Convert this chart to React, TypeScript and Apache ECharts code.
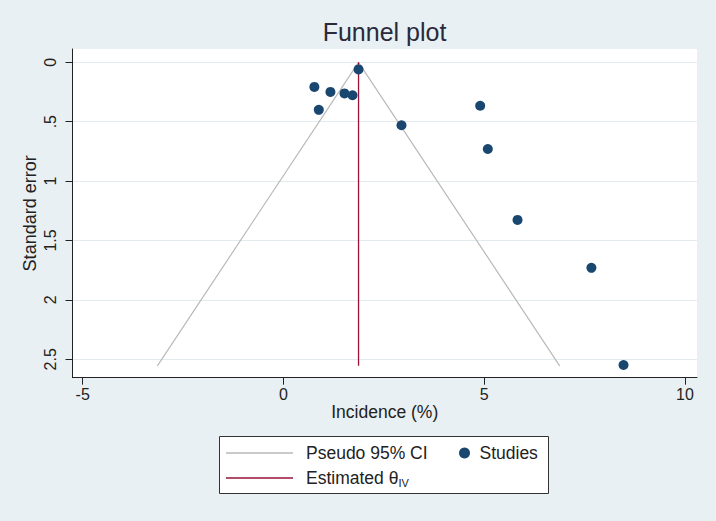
import React, { useEffect, useRef } from "react";
import * as echarts from "echarts";

// Studies: [incidence (%), standard error]
const studyX = [1.87, 0.77, 1.17, 1.52, 1.72, 0.88, 2.94, 4.9, 5.09, 5.83, 7.67, 8.47];
const studySE = [0.06, 0.207, 0.249, 0.262, 0.277, 0.4, 0.53, 0.366, 0.73, 1.327, 1.73, 2.548];

// Pseudo 95% CI funnel vertices
const funnelX = [-3.14, 1.87, 6.88];
const funnelSE = [2.555, 0, 2.555];

// Estimated theta_IV line
const thetaX = [1.87, 1.87];
const thetaSE = [0, 2.555];

const xTickValues = [-5, 0, 5, 10];
const xTickLabels = ["-5", "0", "5", "10"];
const yTickValues = [0, 0.5, 1, 1.5, 2, 2.5];
const yTickLabels = ["0", ".5", "1", "1.5", "2", "2.5"];

const FONT = "'Liberation Sans', Arial, sans-serif";
const TXT = "#222";

export default function App() {
  const ref = useRef<HTMLDivElement>(null);
  useEffect(() => {
    document.body.style.margin = "0";
    const chart = echarts.init(ref.current!, null, { renderer: "svg" });
    const zip = (a: number[], b: number[]) => a.map((v, i) => [v, b[i]]);
    const xLab = (v: number) => {
      const i = xTickValues.indexOf(v);
      return i >= 0 ? xTickLabels[i] : "";
    };
    const yLab = (v: number) => {
      const i = yTickValues.findIndex((t) => Math.abs(t - v) < 1e-9);
      return i >= 0 ? yTickLabels[i] : "";
    };
    chart.setOption({
      animation: false,
      backgroundColor: "#e9f0f3",
      textStyle: { fontFamily: FONT },
      title: {
        text: "Funnel plot",
        left: 384.5,
        textAlign: "center",
        top: 19,
        padding: 0,
        textStyle: { fontFamily: FONT, fontSize: 25, fontWeight: "normal", color: "#2a2a3a" },
      },
      grid: {
        left: 72.5,
        top: 49,
        right: 19,
        bottom: 143.3,
        show: true,
        backgroundColor: "#ffffff",
        borderWidth: 0,
      },
      xAxis: {
        type: "value",
        min: -5.254,
        max: 10.3,
        name: "Incidence (%)",
        nameLocation: "middle",
        nameGap: 25,
        nameMoveOverlap: false,
        nameTextStyle: { fontFamily: FONT, fontSize: 17.5, color: TXT },
        axisLine: { show: true, onZero: false, lineStyle: { color: "#222", width: 1 } },
        axisTick: { show: true, length: 7, customValues: xTickValues, lineStyle: { color: "#222" } },
        axisLabel: {
          customValues: xTickValues,
          formatter: xLab,
          margin: 9,
          fontFamily: FONT,
          fontSize: 16,
          color: TXT,
        },
        splitLine: { show: false },
      },
      yAxis: {
        type: "value",
        inverse: true,
        min: -0.112,
        max: 2.655,
        name: "Standard error",
        nameLocation: "middle",
        nameGap: 34,
        nameMoveOverlap: false,
        nameTextStyle: { fontFamily: FONT, fontSize: 18, color: TXT },
        axisLine: { show: true, onZero: false, lineStyle: { color: "#222", width: 1 } },
        axisTick: { show: true, length: 7, customValues: yTickValues, lineStyle: { color: "#222" } },
        axisLabel: {
          customValues: yTickValues,
          formatter: yLab,
          rotate: 90,
          margin: 14,
          fontFamily: FONT,
          fontSize: 16,
          color: TXT,
        },
        splitLine: { show: true, lineStyle: { color: "#e3ebee", width: 1 } },
      },
      legend: [
        {
          orient: "vertical",
          left: 226,
          top: 443,
          padding: 0,
          itemWidth: 67,
          itemHeight: 1.4,
          itemGap: 5,
          data: [
            { name: "Pseudo 95% CI", icon: "rect" },
            { name: "Estimated θIV", icon: "rect" },
          ],
          formatter: (name: string) => (name === "Estimated θIV" ? "Estimated θ{sub|IV}" : name),
          textStyle: {
            fontFamily: FONT,
            fontSize: 17.5,
            color: TXT,
            lineHeight: 20,
            padding: [0, 0, 0, 8],
            rich: {
              sub: { fontFamily: FONT, fontSize: 11, color: TXT, verticalAlign: "bottom", lineHeight: 14 },
            },
          },
        },
        {
          orient: "vertical",
          left: 459,
          top: 443,
          padding: 0,
          itemWidth: 20,
          itemHeight: 11,
          icon: "circle",
          data: ["Studies"],
          textStyle: { fontFamily: FONT, fontSize: 17.5, color: TXT, lineHeight: 20 },
        },
      ],
      graphic: [
        {
          type: "rect",
          z: 0,
          shape: { x: 219.5, y: 436.5, width: 329, height: 57 },
          style: { fill: "#ffffff", stroke: "#333", lineWidth: 1 },
        },
      ],
      series: [
        {
          name: "Pseudo 95% CI",
          type: "line",
          data: zip(funnelX, funnelSE),
          symbol: "none",
          lineStyle: { color: "#b9b9b9", width: 1.2 },
          itemStyle: { color: "#b9b9b9" },
          z: 2,
        },
        {
          name: "Estimated θIV",
          type: "line",
          data: zip(thetaX, thetaSE),
          symbol: "none",
          lineStyle: { color: "#9b1237", width: 1.3 },
          itemStyle: { color: "#9b1237" },
          z: 3,
        },
        {
          name: "Studies",
          type: "scatter",
          data: zip(studyX, studySE),
          symbolSize: 10,
          itemStyle: { color: "#1a476f", opacity: 1 },
          z: 4,
        },
      ],
    });
    return () => chart.dispose();
  }, []);
  return <div ref={ref} style={{ width: 716, height: 521 }} />;
}
